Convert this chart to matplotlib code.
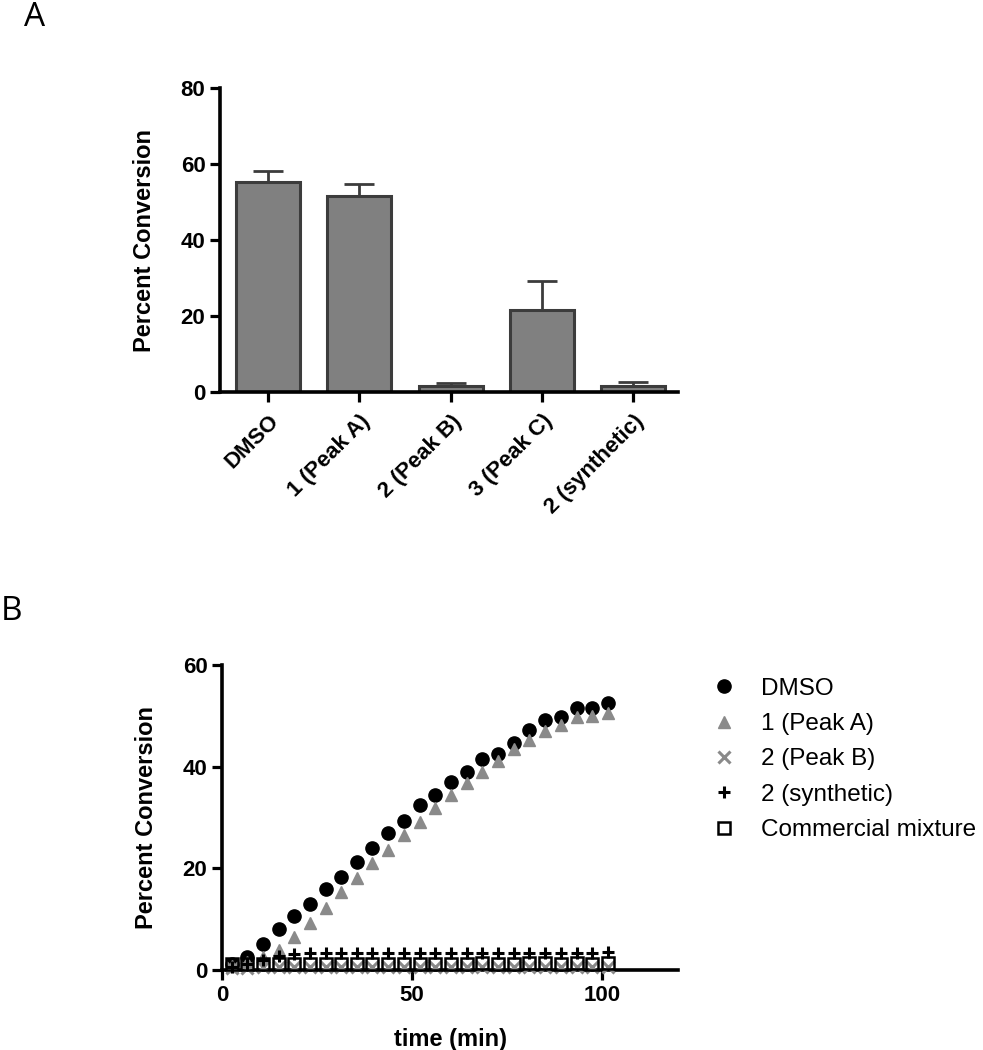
import matplotlib
matplotlib.use("Agg")
import matplotlib.pyplot as plt

plt.rcParams['font.family'] = ['Liberation Sans', 'DejaVu Sans']

# ---- Panel A data ----
categories = ["DMSO", "1 (Peak A)", "2 (Peak B)", "3 (Peak C)", "2 (synthetic)"]
bar_values = [55.3, 51.6, 1.6, 21.7, 1.7]
bar_err_upper = [2.9, 3.2, 0.8, 7.6, 1.0]
a_yticks = [0, 20, 40, 60, 80]

# ---- Panel B data ----
time_min = [2.5, 6.6, 10.8, 14.9, 19.0, 23.1, 27.3, 31.4, 35.5, 39.6, 43.8, 47.9,
            52.0, 56.1, 60.3, 64.4, 68.5, 72.6, 76.8, 80.9, 85.0, 89.1, 93.3, 97.4, 101.5]
dmso = [1.2, 2.6, 5.1, 8.1, 10.7, 13.0, 16.0, 18.3, 21.3, 24.0, 26.9, 29.4,
        32.4, 34.5, 36.9, 39.0, 41.5, 42.5, 44.7, 47.2, 49.1, 49.7, 51.5, 51.5, 52.6]
peak_a = [0.7, 1.5, 2.6, 4.0, 6.4, 9.2, 12.2, 15.3, 18.1, 21.1, 23.6, 26.5,
          29.1, 31.8, 34.5, 36.7, 39.0, 41.2, 43.4, 45.3, 47.0, 48.2, 49.7, 49.9, 50.5]
peak_b = [0.4, 0.4, 0.5, 0.5, 0.5, 0.5, 0.5, 0.5, 0.5, 0.5, 0.5, 0.5,
          0.5, 0.5, 0.5, 0.5, 0.5, 0.5, 0.5, 0.5, 0.5, 0.5, 0.5, 0.5, 0.5]
synthetic = [0.6, 1.2, 2.0, 2.7, 3.2, 3.3, 3.3, 3.3, 3.3, 3.3, 3.3, 3.4,
             3.3, 3.4, 3.3, 3.3, 3.4, 3.4, 3.3, 3.4, 3.4, 3.3, 3.4, 3.3, 3.6]
commercial = [1.1, 1.2, 1.2, 1.2, 1.2, 1.2, 1.2, 1.2, 1.2, 1.2, 1.2, 1.2,
              1.2, 1.2, 1.2, 1.2, 1.3, 1.2, 1.2, 1.3, 1.3, 1.2, 1.3, 1.2, 1.3]
series_labels = ["DMSO", "1 (Peak A)", "2 (Peak B)", "2 (synthetic)", "Commercial mixture"]
b_xticks = [0, 50, 100]
b_yticks = [0, 20, 40, 60]

W, H = 983, 1050
fig = plt.figure(figsize=(W / 100, H / 100), dpi=100)

def style_axes(ax):
    for s in ['top', 'right']:
        ax.spines[s].set_visible(False)
    for s in ['left', 'bottom']:
        ax.spines[s].set_linewidth(2.6)
        ax.spines[s].set_color('black')
    ax.tick_params(axis='both', direction='out', length=7.5, width=2.3,
                   labelsize=16, color='black', pad=3)
    for lab in ax.get_xticklabels() + ax.get_yticklabels():
        lab.set_fontweight('bold')

# ---- Panel A ----
axA = fig.add_axes([220 / W, 1 - 392 / H, 458 / W, 304 / H])
x = list(range(len(categories)))
axA.bar(x, bar_values, width=0.7, color='#808080', edgecolor='#3c3c3c', linewidth=2.2,
        yerr=[[0] * len(bar_values), bar_err_upper],
        error_kw=dict(ecolor='#3c3c3c', elinewidth=2.0, capsize=11, capthick=2.0),
        zorder=2)
axA.set_xlim(-0.526, 4.49)
axA.set_ylim(0, 80)
axA.set_yticks(a_yticks)
axA.set_xticks(x)
axA.set_xticklabels(categories, rotation=45, ha='right', va='top',
                    rotation_mode='anchor')
axA.set_ylabel('Percent Conversion', fontsize=17, fontweight='bold', labelpad=18)
style_axes(axA)
axA.tick_params(axis='x', pad=6)

# ---- Panel B ----
axB = fig.add_axes([222 / W, 1 - 970 / H, 456 / W, 305 / H])
axB.plot(time_min, dmso, 'o', color='black', markersize=9.5, label=series_labels[0],
         clip_on=False, zorder=3)
axB.plot(time_min, peak_a, '^', color='#8a8a8a', markersize=8.5, label=series_labels[1],
         clip_on=False, zorder=3)
axB.plot(time_min, peak_b, 'x', color='#8a8a8a', markersize=8, markeredgewidth=2.2,
         label=series_labels[2], clip_on=False, zorder=3)
axB.plot(time_min, synthetic, '+', color='black', markersize=9, markeredgewidth=2.2,
         label=series_labels[3], clip_on=False, zorder=3)
axB.plot(time_min, commercial, 's', markerfacecolor='none', markeredgecolor='black',
         markersize=8.5, markeredgewidth=1.8, label=series_labels[4], clip_on=False, zorder=3)
axB.set_xlim(0, 120)
axB.set_ylim(0, 60)
axB.set_xticks(b_xticks)
axB.set_yticks(b_yticks)
axB.set_xlabel('time (min)', fontsize=17, fontweight='bold', labelpad=16)
axB.set_ylabel('Percent Conversion', fontsize=17, fontweight='bold', labelpad=18)
style_axes(axB)

leg = axB.legend(loc='upper left', bbox_to_anchor=(700 / W, 1 - 668 / H),
                 bbox_transform=fig.transFigure, frameon=False, fontsize=17.5,
                 handletextpad=0.9, labelspacing=0.55, borderaxespad=0,
                 handlelength=1.2, markerscale=1.0)

# Panel letters
fig.text(35 / W, 1 - 18 / H, 'A', fontsize=24, family=['Open Sans', 'DejaVu Sans'],
         ha='center', va='center')
fig.text(11 / W, 1 - 612 / H, 'B', fontsize=24, family=['Open Sans', 'DejaVu Sans'],
         ha='center', va='center')

fig.savefig('out.png', dpi=100)
